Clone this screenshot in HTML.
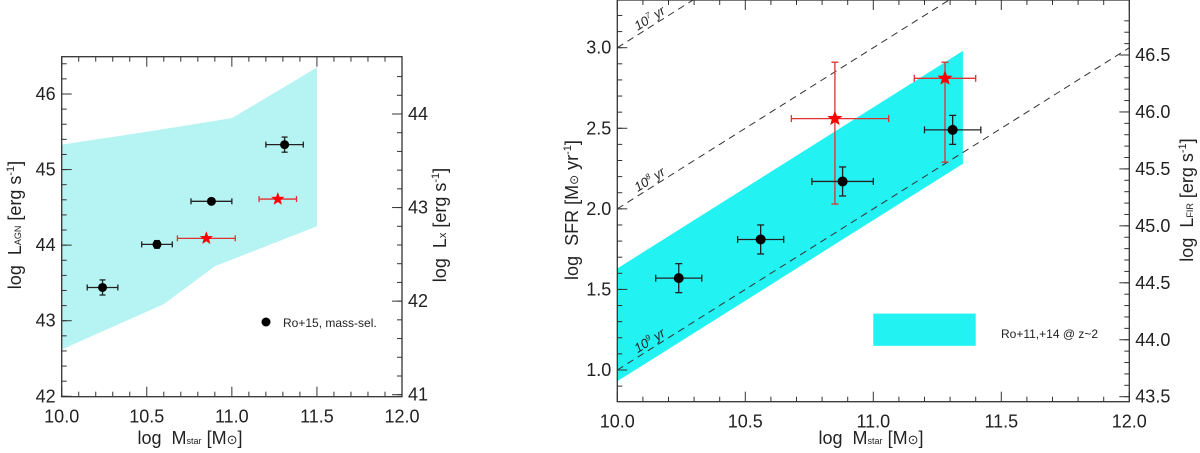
<!DOCTYPE html>
<html><head><meta charset="utf-8"><style>
html,body{margin:0;padding:0;background:#fff;}
svg{display:block;font-family:"Liberation Sans",sans-serif;}
</style></head><body>
<svg id="fig" width="1200" height="453" viewBox="0 0 1200 453" xmlns="http://www.w3.org/2000/svg"></svg>
<script>
// ---- Left panel data ----
const leftBandX = [10.0, 10.5, 11.0, 11.5];
const leftBandTop = [45.33, 45.5, 45.68, 46.35];
const leftBandBotX = [10.0, 10.6, 10.9, 11.5];
const leftBandBot = [42.62, 43.22, 43.72, 44.25];
const leftBlackX = [10.24, 10.56, 10.88, 11.31];
const leftBlackY = [43.44, 44.01, 44.58, 45.33];
const leftBlackXerr = [0.09, 0.09, 0.12, 0.11];
const leftBlackYerr = [0.1, 0.05, 0.02, 0.1];
const leftRedX = [10.85, 11.27];
const leftRedY = [44.09, 44.61];
const leftRedXerr = [0.17, 0.11];
const leftXTicks = ["10.0","10.5","11.0","11.5","12.0"];
const leftYTicks = ["42","43","44","45","46"];
const leftY2Ticks = ["41","42","43","44"];
// ---- Right panel data ----
const rightBandX = [10.0, 11.35];
const rightBandTop = [1.63, 2.98];
const rightBandBot = [0.93, 2.28];
const rightBlackX = [10.24, 10.56, 10.88, 11.31];
const rightBlackY = [1.57, 1.81, 2.17, 2.49];
const rightBlackXerr = [0.09, 0.09, 0.12, 0.11];
const rightBlackYerr = [0.09, 0.09, 0.09, 0.09];
const rightRedX = [10.85, 11.28];
const rightRedY = [2.56, 2.81];
const rightRedXlo = [0.17, 0.12];
const rightRedXhi = [0.21, 0.12];
const rightRedYlo = [0.53, 0.52];
const rightRedYhi = [0.35, 0.10];
const lineOffsets = [3.0, 2.0, 1.0];
const lineLabels = ["7","8","9"];
const rightXTicks = ["10.0","10.5","11.0","11.5","12.0"];
const rightYTicks = ["1.0","1.5","2.0","2.5","3.0"];
const rightY2Ticks = ["43.5","44.0","44.5","45.0","45.5","46.0","46.5"];

const NS="http://www.w3.org/2000/svg";
const svg=document.getElementById('fig');
function mk(tag,attrs,parent){const e=document.createElementNS(NS,tag);for(const k in attrs)e.setAttribute(k,attrs[k]);(parent||svg).appendChild(e);return e;}
function lin(d0,d1,p0,p1){return v=>p0+(v-d0)*(p1-p0)/(d1-d0);}

function star(cx,cy,r){let p=[];for(let i=0;i<10;i++){const a=-Math.PI/2+i*Math.PI/5;const rr=i%2?r*0.42:r;p.push((cx+rr*Math.cos(a)).toFixed(1)+","+(cy+rr*Math.sin(a)).toFixed(1));}return p.join(" ");}

function errbar(g,x,y,xl,xh,yl,yh,col,cap){
  mk('line',{x1:xl,y1:y,x2:xh,y2:y,stroke:col,'stroke-width':1.3},g);
  mk('line',{x1:xl,y1:y-cap,x2:xl,y2:y+cap,stroke:col,'stroke-width':1.3},g);
  mk('line',{x1:xh,y1:y-cap,x2:xh,y2:y+cap,stroke:col,'stroke-width':1.3},g);
  if(yl!==null){
  mk('line',{x1:x,y1:yl,x2:x,y2:yh,stroke:col,'stroke-width':1.3},g);
  mk('line',{x1:x-cap,y1:yl,x2:x+cap,y2:yl,stroke:col,'stroke-width':1.3},g);
  mk('line',{x1:x-cap,y1:yh,x2:x+cap,y2:yh,stroke:col,'stroke-width':1.3},g);}
}

function axes(L,R,T,B,sx,xt,sy,yt,ymin,ymax,yminor,sy2,y2t,y2min,y2max,y2minor,name){
  const g=mk('g',{});
  
  
  mk('rect',{x:L,y:T,width:R-L,height:B-T,fill:'none',stroke:'#333','stroke-width':1.3},g);
  for(let v=10;v<=12.0001;v+=0.1){const X=sx(v);const major=Math.abs(v*2-Math.round(v*2))<1e-6;const len=major?10:5;
    mk('line',{x1:X,y1:B,x2:X,y2:B-len,stroke:'#333','stroke-width':1},g);
    mk('line',{x1:X,y1:T,x2:X,y2:T+len,stroke:'#333','stroke-width':1},g);}
  xt.forEach(t=>{const e=mk('text',{x:sx(+t),y:B+26,'text-anchor':'middle','font-size':18,fill:'#222'},g);e.textContent=t;});
  for(let v=Math.ceil(ymin/yminor)*yminor;v<=ymax;v+=yminor){const Y=sy(v);mk('line',{x1:L,y1:Y,x2:L+5,y2:Y,stroke:'#333','stroke-width':1},g);}
  yt.forEach(t=>{const Y=sy(+t);mk('line',{x1:L,y1:Y,x2:L+10,y2:Y,stroke:'#333','stroke-width':1},g);
    const e=mk('text',{x:L-6,y:Y+6,'text-anchor':'end','font-size':18,fill:'#222'},g);e.textContent=t;});
  for(let v=Math.ceil(y2min/y2minor)*y2minor;v<=y2max;v+=y2minor){const Y=sy2(v);mk('line',{x1:R,y1:Y,x2:R-5,y2:Y,stroke:'#333','stroke-width':1},g);}
  y2t.forEach(t=>{const Y=sy2(+t);mk('line',{x1:R,y1:Y,x2:R-10,y2:Y,stroke:'#333','stroke-width':1},g);
    const e=mk('text',{x:R+6,y:Y+6,'text-anchor':'start','font-size':18,fill:'#222'},g);e.textContent=t;});
}

// ===== LEFT PANEL =====
(function(){
  const L=61.7,R=402,T=56.7,B=396.7;
  const sx=lin(10,12,L,R), sy=lin(42,46,396.3,94), sy2=lin(41,44,394.7,114);
  const band=[];leftBandX.forEach((x,i)=>band.push(sx(x)+","+sy(leftBandTop[i])));
  for(let i=leftBandBotX.length-1;i>=0;i--)band.push(sx(leftBandBotX[i])+","+sy(leftBandBot[i]));
  const b=mk('polygon',{points:band.join(" "),fill:'#b6f3f3'});
  
  
  axes(L,R,T,B,sx,leftXTicks,sy,leftYTicks,42,46.5,0.2,sy2,leftY2Ticks,41,44.6,0.2,'left');
  leftBlackX.forEach((x,i)=>{const g=mk('g',{});
    
    
    errbar(g,sx(x),sy(leftBlackY[i]),sx(x-leftBlackXerr[i]),sx(x+leftBlackXerr[i]),sy(leftBlackY[i]-leftBlackYerr[i]),sy(leftBlackY[i]+leftBlackYerr[i]),'#222',3);
    mk('circle',{cx:sx(x),cy:sy(leftBlackY[i]),r:4.5,fill:'#000'},g);});
  leftRedX.forEach((x,i)=>{const g=mk('g',{});
    
    
    errbar(g,sx(x),sy(leftRedY[i]),sx(x-leftRedXerr[i]),sx(x+leftRedXerr[i]),null,null,'#e03030',3);
    mk('polygon',{points:star(sx(x),sy(leftRedY[i]),7),fill:'#ff0000'},g);});
  const lg=mk('g',{});
  
  
  mk('circle',{cx:266,cy:322,r:4.5,fill:'#000'},lg);
  const lt=mk('text',{x:283,y:327,'font-size':12,fill:'#222'},lg);lt.textContent="Ro+15, mass-sel.";
  const xt=mk('text',{x:190,y:444,'text-anchor':'middle','font-size':18,fill:'#222'});
  
  xt.innerHTML='log&#160;&#160;M<tspan font-size="9">star</tspan> [M<tspan font-size="13">⊙</tspan>]';
  const yt=mk('text',{x:0,y:0,'text-anchor':'middle','font-size':18,fill:'#222',transform:'translate(21,225) rotate(-90)'});
  
  yt.innerHTML='log&#160;&#160;L<tspan font-size="9">AGN</tspan> [erg s<tspan font-size="11" dy="-7">-1</tspan><tspan dy="7">]</tspan>';
  const y2=mk('text',{x:0,y:0,'text-anchor':'middle','font-size':18,fill:'#222',transform:'translate(446,225) rotate(-90)'});
  
  y2.innerHTML='log&#160;&#160;L<tspan font-size="11">x</tspan> [erg s<tspan font-size="11" dy="-7">-1</tspan><tspan dy="7">]</tspan>';
})();

// ===== RIGHT PANEL =====
(function(){
  const L=617.3,R=1129.3,T=0,B=401.7;
  const sx=lin(10,12,L,R), sy=lin(1,3,370,47.7), sy2=lin(43.5,46.5,396.7,55);
  const cp=mk('clipPath',{id:'rclip'});mk('rect',{x:L,y:T,width:R-L,height:B-T},cp);
  const band=[sx(rightBandX[0])+","+sy(rightBandTop[0]),sx(rightBandX[1])+","+sy(rightBandTop[1]),sx(rightBandX[1])+","+sy(rightBandBot[1]),sx(rightBandX[0])+","+sy(rightBandBot[0])];
  const b=mk('polygon',{points:band.join(" "),fill:'#22f2f2'});
  
  
  lineOffsets.forEach((o,i)=>{const ln=mk('line',{x1:sx(10),y1:sy(o),x2:sx(12),y2:sy(o+2),stroke:'#333','stroke-width':1,'stroke-dasharray':'7,5','clip-path':'url(#rclip)'});
    
    
    const ang=Math.atan2(sy(o+1)-sy(o),sx(11)-sx(10))*180/Math.PI;
    const px=sx(10.08), py=sy(o+0.08)-4;
    const t=mk('text',{x:0,y:0,'font-size':13,'font-style':'italic',fill:'#222',transform:`translate(${px},${py}) rotate(${ang})`});
    
    
    t.innerHTML='10<tspan font-size="8" dy="-5">'+lineLabels[i]+'</tspan><tspan dy="5"> yr</tspan>';});
  axes(L,R,T,B,sx,rightXTicks,sy,rightYTicks,0.81,3.29,0.1,sy2,rightY2Ticks,43.5,46.9,0.1,'right');
  rightRedX.forEach((x,i)=>{const g=mk('g',{});
    
    
    errbar(g,sx(x),sy(rightRedY[i]),sx(x-rightRedXlo[i]),sx(x+rightRedXhi[i]),sy(rightRedY[i]-rightRedYlo[i]),sy(rightRedY[i]+rightRedYhi[i]),'#e03030',3.5);
    mk('polygon',{points:star(sx(x),sy(rightRedY[i]),8),fill:'#ff0000'},g);});
  rightBlackX.forEach((x,i)=>{const g=mk('g',{});
    
    
    errbar(g,sx(x),sy(rightBlackY[i]),sx(x-rightBlackXerr[i]),sx(x+rightBlackXerr[i]),sy(rightBlackY[i]-rightBlackYerr[i]),sy(rightBlackY[i]+rightBlackYerr[i]),'#222',3.5);
    mk('circle',{cx:sx(x),cy:sy(rightBlackY[i]),r:5,fill:'#000'},g);});
  const lg=mk('g',{});
  
  
  mk('rect',{x:sx(11.0),y:sy(1.35),width:sx(11.4)-sx(11.0),height:sy(1.15)-sy(1.35),fill:'#22f2f2'},lg);
  const lt=mk('text',{x:1001,y:338,'font-size':12,fill:'#222'},lg);lt.textContent="Ro+11,+14 @ z~2";
  const xt=mk('text',{x:871,y:444,'text-anchor':'middle','font-size':18,fill:'#222'});
  
  xt.innerHTML='log&#160;&#160;M<tspan font-size="9">star</tspan> [M<tspan font-size="13">⊙</tspan>]';
  const yt=mk('text',{x:0,y:0,'text-anchor':'middle','font-size':18,fill:'#222',transform:'translate(578,210) rotate(-90)'});
  
  yt.innerHTML='log&#160;&#160;SFR [M<tspan font-size="12">⊙</tspan> yr<tspan font-size="11" dy="-7">-1</tspan><tspan dy="7">]</tspan>';
  const y2=mk('text',{x:0,y:0,'text-anchor':'middle','font-size':18,fill:'#222',transform:'translate(1193,200) rotate(-90)'});
  
  y2.innerHTML='log&#160;&#160;L<tspan font-size="9">FIR</tspan> [erg s<tspan font-size="11" dy="-7">-1</tspan><tspan dy="7">]</tspan>';
})();
</script>
</body></html>
